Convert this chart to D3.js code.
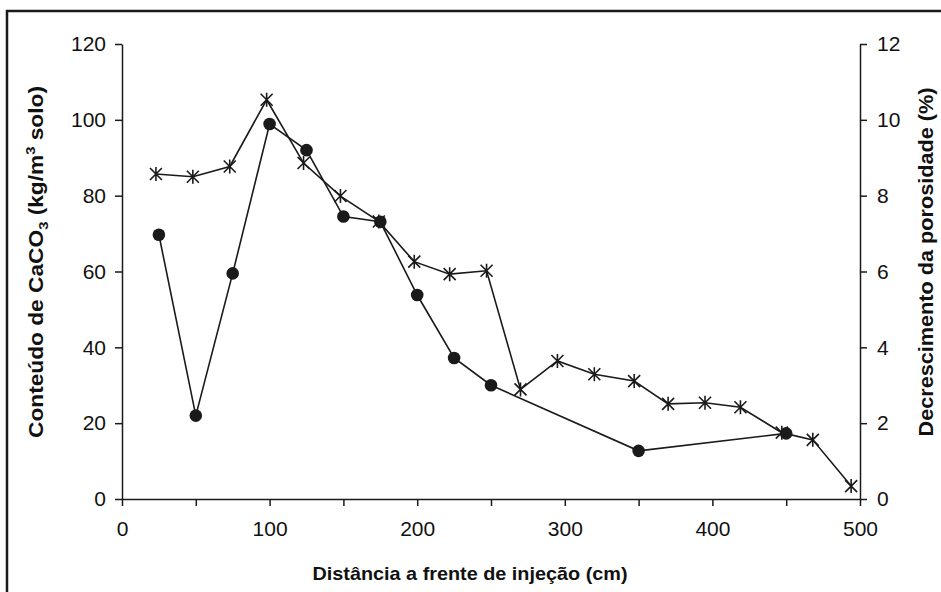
<!DOCTYPE html>
<html>
<head>
<meta charset="utf-8">
<script src="https://cdn.jsdelivr.net/npm/d3@7"></script>
<style>
  body { margin: 0; background: #fff; }
  svg { display: block; }
  text { font-family: "Liberation Sans", Arial, sans-serif; fill: #111; }
</style>
</head>
<body>
<svg id="chart" width="941" height="592"></svg>
<script>
// CaCO3 content (kg/m3 of soil) against distance from the injection front (cm)
const caco3Dist = [25, 50, 75, 100, 125, 150, 175, 200, 225, 250, 350, 450];
const caco3Values = [69.7, 22, 59.5, 98.9, 92, 74.5, 73.1, 53.8, 37.2, 30, 12.7, 17.3];

// Porosity decrease (%) against distance from the injection front (cm)
const porosityDist = [23, 48, 73, 98, 123, 148, 174, 198, 222, 247, 270, 295, 320, 347, 370, 395, 419, 447, 468, 494];
const porosityValues = [8.57, 8.5, 8.77, 10.53, 8.86, 7.99, 7.32, 6.26, 5.93, 6.02, 2.89, 3.64, 3.29, 3.11, 2.51, 2.54, 2.42, 1.75, 1.56, 0.34];

// Tick values
const xTicks = [0, 50, 100, 150, 200, 250, 300, 350, 400, 450, 500];
const xTickLabels = ["0", "", "100", "", "200", "", "300", "", "400", "", "500"];
const leftTicks = [0, 20, 40, 60, 80, 100, 120];
const rightTicks = [0, 2, 4, 6, 8, 10, 12];

const svg = d3.select("#chart");
const ink = "#1a1a1a";

// Outer frame
svg.append("rect")
  .attr("x", 7).attr("y", 11)
  .attr("width", 960).attr("height", 620)
  .attr("fill", "none").attr("stroke", ink).attr("stroke-width", 2.5);

const x = d3.scaleLinear().domain([0, 500]).range([122, 860]);
const yL = d3.scaleLinear().domain([0, 120]).range([499, 44]);
const yR = d3.scaleLinear().domain([0, 12]).range([499, 44]);

function styleAxis(g) {
  g.selectAll("path, line").attr("stroke", ink).attr("stroke-width", 1.5);
  g.selectAll("text").attr("font-size", 21).attr("fill", ink)
    .attr("font-family", "'Liberation Sans', Arial, sans-serif");
}

// Bottom axis
svg.append("g")
  .attr("transform", `translate(0,${yL(0)})`)
  .call(d3.axisBottom(x).tickValues(xTicks).tickSize(7).tickSizeOuter(0).tickPadding(15)
    .tickFormat((d, i) => xTickLabels[i]))
  .call(styleAxis);

// Left axis
svg.append("g")
  .attr("transform", `translate(${x(0)},0)`)
  .call(d3.axisLeft(yL).tickValues(leftTicks).tickSize(7).tickSizeOuter(0).tickPadding(9))
  .call(styleAxis);

// Right axis
svg.append("g")
  .attr("transform", `translate(${x(500)},0)`)
  .call(d3.axisRight(yR).tickValues(rightTicks).tickSize(7).tickSizeOuter(0).tickPadding(10))
  .call(styleAxis);

// Axis titles
svg.append("text")
  .attr("x", 470).attr("y", 580)
  .attr("text-anchor", "middle").attr("font-size", 19).attr("font-weight", "bold")
  .attr("textLength", 315).attr("lengthAdjust", "spacingAndGlyphs")
  .text("Distância a frente de injeção (cm)");

const leftTitle = svg.append("text")
  .attr("transform", "translate(43,262) rotate(-90)")
  .attr("text-anchor", "middle").attr("font-size", 20).attr("font-weight", "bold")
  .attr("textLength", 352).attr("lengthAdjust", "spacingAndGlyphs");
leftTitle.append("tspan").text("Conteúdo de CaCO");
leftTitle.append("tspan").attr("font-size", 13).attr("dy", 5).text("3");
leftTitle.append("tspan").attr("dy", -5).text(" (kg/m");
leftTitle.append("tspan").attr("font-size", 13).attr("dy", -8).text("3");
leftTitle.append("tspan").attr("dy", 8).text(" solo)");

svg.append("text")
  .attr("transform", "translate(933,262) rotate(-90)")
  .attr("text-anchor", "middle").attr("font-size", 20).attr("font-weight", "bold")
  .attr("textLength", 349).attr("lengthAdjust", "spacingAndGlyphs")
  .text("Decrescimento da porosidade (%)");

// Series lines
const caco3 = caco3Dist.map((d, i) => [d, caco3Values[i]]);
const porosity = porosityDist.map((d, i) => [d, porosityValues[i]]);

svg.append("path")
  .attr("d", d3.line().x(d => x(d[0])).y(d => yL(d[1]))(caco3))
  .attr("fill", "none").attr("stroke", ink).attr("stroke-width", 1.6);

svg.append("path")
  .attr("d", d3.line().x(d => x(d[0])).y(d => yR(d[1]))(porosity))
  .attr("fill", "none").attr("stroke", ink).attr("stroke-width", 1.6);

// Star markers for porosity
const s = 6;
svg.append("g").selectAll("path").data(porosity).join("path")
  .attr("transform", d => `translate(${x(d[0])},${yR(d[1])})`)
  .attr("d", `M${-s},${-s}L${s},${s}M${-s},${s}L${s},${-s}M0,${-s - 1}L0,${s + 1}`)
  .attr("fill", "none").attr("stroke", ink).attr("stroke-width", 1.6);

// Circle markers for CaCO3
svg.append("g").selectAll("circle").data(caco3).join("circle")
  .attr("cx", d => x(d[0])).attr("cy", d => yL(d[1]))
  .attr("r", 6.3).attr("fill", ink);
</script>
</body>
</html>
